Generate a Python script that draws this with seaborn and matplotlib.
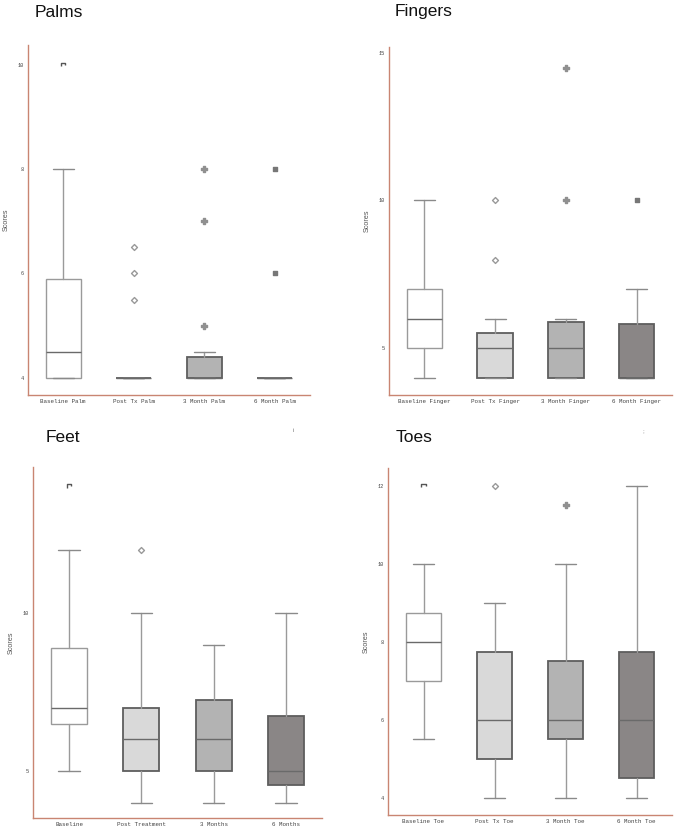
import numpy as np
import pandas as pd
import matplotlib
matplotlib.use("Agg")
import matplotlib.pyplot as plt
from matplotlib.path import Path
import seaborn as sns

# ---------------- data ----------------
palm_labels = ["Baseline Palm", "Post Tx Palm", "3 Month Palm", "6 Month Palm"]
palm_q1 = [4, 4, 4, 4]
palm_med = [4.5, 4, 4, 4]
palm_q3 = [5.9, 4, 4.4, 4]
palm_lo = [4, 4, 4, 4]
palm_hi = [8, 4, 4.5, 4]
palm_out = [[10], [5.5, 6, 6.5], [5, 7, 8], [6, 8]]
palm_yticks = [4, 6, 8, 10]

finger_labels = ["Baseline Finger", "Post Tx Finger", "3 Month Finger", "6 Month Finger"]
finger_q1 = [5, 4, 4, 4]
finger_med = [6, 5, 5, 4]
finger_q3 = [7, 5.5, 5.9, 5.8]
finger_lo = [4, 4, 4, 4]
finger_hi = [10, 6, 6, 7]
finger_out = [[], [8, 10], [10, 14.5], [10]]
finger_yticks = [5, 10, 15]

feet_labels = ["Baseline", "Post Treatment", "3 Months", "6 Months"]
feet_q1 = [6.5, 5, 5, 4.55]
feet_med = [7, 6, 6, 5]
feet_q3 = [8.9, 7, 7.25, 6.75]
feet_lo = [5, 4, 4, 4]
feet_hi = [12, 10, 9, 10]
feet_out = [[14], [12], [], []]
feet_yticks = [5, 10]

toe_labels = ["Baseline Toe", "Post Tx Toe", "3 Month Toe", "6 Month Toe"]
toe_q1 = [7, 5, 5.5, 4.5]
toe_med = [8, 6, 6, 6]
toe_q3 = [8.75, 7.75, 7.5, 7.75]
toe_lo = [5.5, 4, 4, 4]
toe_hi = [10, 9, 10, 12]
toe_out = [[12], [12], [11.5], []]
toe_yticks = [4, 6, 8, 10, 12]

titles = ["Palms", "Fingers", "Feet", "Toes"]

# ---------------- styling ----------------
sns.set_theme(style="white")
plt.rcParams["font.family"] = ["Liberation Sans", "DejaVu Sans"]

box_faces = ["#ffffff", "#d9d9d9", "#b3b3b3", "#8a8686"]
box_edges = ["#9a9a9a", "#5e5e5e", "#5e5e5e", "#5e5e5e"]
flier_face = ["none", "#ffffff", "#909090", "#777777"]
flier_edge = ["#555555", "#999999", "#909090", "#777777"]
spine_col = "#c98572"

corner = Path([(-1, -0.5), (-1, 1), (1, 1), (1, 0.1)],
              [Path.MOVETO, Path.LINETO, Path.LINETO, Path.LINETO])
flier_markers = [corner, "D", "P", "s"]
flier_sizes = [10, 9, 16, 12]

W, H = 675, 831
fig = plt.figure(figsize=(W / 100, H / 100), dpi=100)


def frac_rect(l, t, r, b):
    return [l / W, 1 - b / H, (r - l) / W, (b - t) / H]


panels = [
    dict(rect=frac_rect(28, 45, 310, 395), labels=palm_labels, q1=palm_q1, med=palm_med,
         q3=palm_q3, lo=palm_lo, hi=palm_hi, out=palm_out, yticks=palm_yticks,
         ylim=(3.67, 10.38), title_xy=(35, 17)),
    dict(rect=frac_rect(389, 47, 672, 395), labels=finger_labels, q1=finger_q1, med=finger_med,
         q3=finger_q3, lo=finger_lo, hi=finger_hi, out=finger_out, yticks=finger_yticks,
         ylim=(3.41, 15.2), title_xy=(395, 16)),
    dict(rect=frac_rect(33, 467, 322, 818), labels=feet_labels, q1=feet_q1, med=feet_med,
         q3=feet_q3, lo=feet_lo, hi=feet_hi, out=feet_out, yticks=feet_yticks,
         ylim=(3.51, 14.62), title_xy=(46, 442)),
    dict(rect=frac_rect(388, 468, 672, 815), labels=toe_labels, q1=toe_q1, med=toe_med,
         q3=toe_q3, lo=toe_lo, hi=toe_hi, out=toe_out, yticks=toe_yticks,
         ylim=(3.56, 12.46), title_xy=(396, 442)),
]

for p, title in zip(panels, titles):
    ax = fig.add_axes(p["rect"])
    stats = []
    for i, lab in enumerate(p["labels"]):
        stats.append(dict(label=lab, q1=p["q1"][i], med=p["med"][i], q3=p["q3"][i],
                          whislo=p["lo"][i], whishi=p["hi"][i], fliers=[]))
    bp = ax.bxp(stats, positions=range(len(stats)), widths=0.5, capwidths=0.3,
                patch_artist=True, showfliers=False,
                whiskerprops=dict(color="#9a9a9a", lw=1.0),
                capprops=dict(color="#8a8a8a", lw=1.0),
                medianprops=dict(color="#6a6a6a", lw=1.0),
                boxprops=dict(lw=1.1))
    for i, patch in enumerate(bp["boxes"]):
        patch.set_facecolor(box_faces[i])
        patch.set_edgecolor(box_edges[i])
        patch.set_linewidth(1.3 if i > 0 else 1.0)

    # outliers drawn with seaborn
    for i, vals in enumerate(p["out"]):
        if not vals:
            continue
        df = pd.DataFrame({"pos": [i] * len(vals), "score": vals})
        sns.scatterplot(data=df, x="pos", y="score", ax=ax, marker=flier_markers[i],
                        s=flier_sizes[i], facecolor=flier_face[i],
                        edgecolor=flier_edge[i], linewidth=1.0, zorder=5, legend=False)

    ax.set_xlim(-0.5, 3.5)
    ax.set_ylim(*p["ylim"])
    ax.set_xticks(range(len(p["labels"])))
    ax.set_xticklabels(p["labels"], fontfamily="Liberation Mono", fontsize=4.2, color="#444444")
    ax.set_yticks(p["yticks"])
    ax.set_yticklabels([str(t) for t in p["yticks"]], fontfamily="Liberation Mono",
                       fontsize=3.8, color="#444444")
    ax.tick_params(axis="both", length=0, pad=3)
    ax.set_xlabel("")
    ax.set_ylabel("Scores", fontsize=5.2, color="#555555", labelpad=6)
    for s in ["top", "right"]:
        ax.spines[s].set_visible(False)
    for s in ["left", "bottom"]:
        ax.spines[s].set_color(spine_col)
        ax.spines[s].set_linewidth(1.0)
    ax.set_facecolor("white")

    tx, ty = p["title_xy"]
    fig.text(tx / W, 1 - ty / H, title, fontsize=12.5, color="#111111",
             ha="left", va="baseline")

# small stray marks seen in the reference
fig.text(293 / W, 1 - 430 / H, "i", fontsize=4.5, color="#777777", ha="center", va="center")
fig.text(643 / W, 1 - 431 / H, ";", fontsize=4.5, color="#777777", ha="center", va="center")

fig.savefig("out.png", dpi=100, facecolor="white")
